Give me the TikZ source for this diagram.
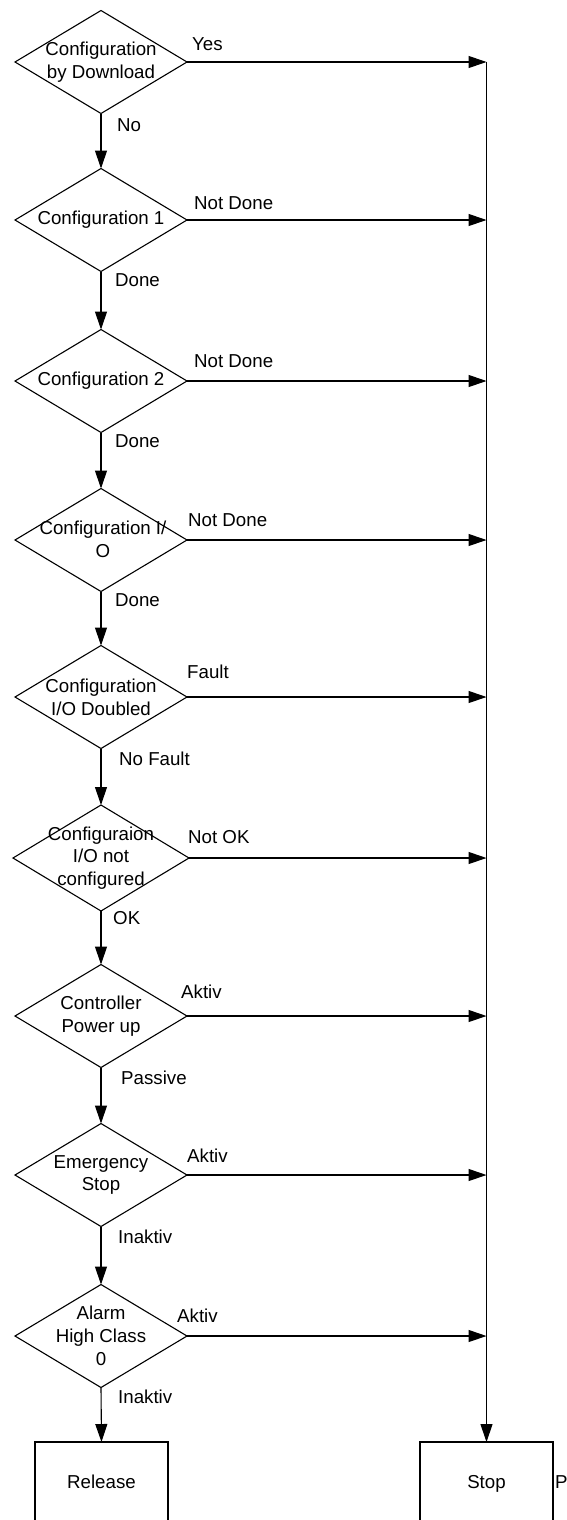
\documentclass[tikz,border=0pt]{standalone}
\usepackage{fontspec}
\setmainfont{Liberation Sans}
\usetikzlibrary{shapes.geometric,arrows.meta}

\begin{document}
\begin{tikzpicture}[x=1pt,y=-1pt,
  every node/.style={font=\fontsize{18.7}{22.8}\selectfont},
  line/.style={line width=1.1pt},
  arr/.style={line, -{Triangle[length=18pt,width=12pt]}},
  dia/.style={draw, line width=1.1pt, shape=diamond, minimum width=172pt,
              minimum height=103pt, inner sep=0pt, outer sep=0pt},
  txt/.style={align=center, inner sep=0pt},
  lbl/.style={anchor=west, inner sep=0pt},
  box/.style={draw, line width=1.1pt, minimum width=133pt, minimum height=80pt,
              inner sep=0pt, outer sep=0pt}
]
\useasboundingbox[fill=white] (0,0) rectangle (566,1520);

% decision chain
\node[dia] (d1) at (101,62) {};
\node[txt] at (d1) {Configuration\\by Download};
\node[dia] (d2) at (101,220) {};
\node[txt] at (d2) {Configuration 1};
\node[dia] (d3) at (101,381) {};
\node[txt] at (d3) {Configuration 2};
\node[dia] (d4) at (101,540) {};
\node[txt] at (103,539) {Configuration I/\\O};
\node[dia] (d5) at (101,697) {};
\node[txt] at (d5) {Configuration\\I/O Doubled};
\node[dia, minimum width=176pt, minimum height=106pt] (d6) at (101,858) {};
\node[txt] at (d6) {Configuraion\\I/O not\\configured};
\node[dia] (d7) at (101,1016) {};
\node[txt] at (d7) {Controller\\Power up};
\node[dia] (d8) at (101,1175) {};
\node[txt] at (d8) {Emergency\\Stop};
\node[dia] (d9) at (101,1336) {};
\node[txt] at (d9) {Alarm\\High Class\\0};

% end states
\node[box] (rel) at (101.5,1482) {};
\node[txt, anchor=base] at (101.5,1488) {Release};
\node[box] (stop) at (486.5,1482) {};
\node[txt, anchor=base] at (486.5,1488) {Stop};
\node[txt, anchor=base west] (p) at (555,1488) {P};

% downward flow
\draw[arr] (d1.south) -- (d2.north);
\draw[arr] (d2.south) -- (d3.north);
\draw[arr] (d3.south) -- (d4.north);
\draw[arr] (d4.south) -- (d5.north);
\draw[arr] (d5.south) -- (d6.north);
\draw[arr] (d6.south) -- (d7.north);
\draw[arr] (d7.south) -- (d8.north);
\draw[arr] (d8.south) -- (d9.north);
\draw[arr] (d9.south) -- (rel.north);

% branches to the stop rail
\foreach \d in {d1,d2,d3,d4,d5,d6,d7,d8,d9}
  \draw[arr] (\d.east) -- (\d.east -| stop.north);
\draw[arr] (d1.east -| stop.north) -- (stop.north);

% branch labels
\node[lbl] at (192,44) {Yes};
\node[lbl] at (117,125) {No};
\node[lbl] at (194,203) {Not Done};
\node[lbl] at (115,280) {Done};
\node[lbl] at (194,361) {Not Done};
\node[lbl] at (115,441) {Done};
\node[lbl] at (188,520) {Not Done};
\node[lbl] at (115,600) {Done};
\node[lbl] at (187,672) {Fault};
\node[lbl] at (119,759) {No Fault};
\node[lbl] at (188,837) {Not OK};
\node[lbl] at (113,918) {OK};
\node[lbl] at (181,992) {Aktiv};
\node[lbl] at (121,1078) {Passive};
\node[lbl] at (187,1156) {Aktiv};
\node[lbl] at (118,1237) {Inaktiv};
\node[lbl] at (177,1316) {Aktiv};
\node[lbl] at (118,1397) {Inaktiv};
\end{tikzpicture}
\end{document}
